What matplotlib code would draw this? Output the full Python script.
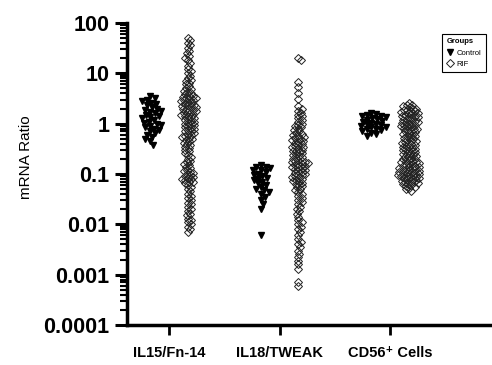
import numpy as np
import matplotlib
matplotlib.use('Agg')
import matplotlib.pyplot as plt

plt.rcParams['font.family'] = ['Liberation Sans', 'DejaVu Sans']

categories = ['IL15/Fn-14', 'IL18/TWEAK', 'CD56\u207a Cells']

# Control (filled triangles)
il15_control = [3.5, 3.2, 3.0, 2.8, 2.6, 2.5, 2.3, 2.1, 2.0, 1.9, 1.8, 1.7, 1.6, 1.5,
                1.4, 1.35, 1.3, 1.2, 1.1, 1.05, 1.0, 0.95, 0.9, 0.85, 0.8, 0.75, 0.7,
                0.65, 0.6, 0.55, 0.5, 0.45, 0.37]
il18_control = [0.15, 0.14, 0.14, 0.13, 0.12, 0.12, 0.11, 0.1, 0.095, 0.09, 0.085, 0.08,
                0.075, 0.07, 0.065, 0.06, 0.055, 0.05, 0.047, 0.043, 0.04, 0.035, 0.03,
                0.025, 0.02, 0.006]
cd56_control = [1.6, 1.55, 1.5, 1.45, 1.4, 1.35, 1.3, 1.25, 1.2, 1.15, 1.1, 1.05,
                1.0, 0.97, 0.93, 0.9, 0.87, 0.84, 0.8, 0.77, 0.74, 0.7, 0.66, 0.62, 0.58]

# RIF (open diamonds)
il15_rif = [50, 45, 40, 36, 32, 28, 25, 22, 20, 18, 16, 14, 12, 11, 10, 9, 8, 7.5, 7, 6.5,
            6, 5.5, 5, 4.8, 4.5,
            4.2, 4.0, 3.8, 3.6, 3.5, 3.4, 3.3, 3.2, 3.1, 3.0, 2.9, 2.8, 2.7, 2.6, 2.5, 2.4,
            2.3, 2.25, 2.2, 2.1, 2.0, 1.95, 1.9, 1.85, 1.8, 1.7, 1.65, 1.6, 1.55, 1.5, 1.45,
            1.4, 1.35, 1.3, 1.25, 1.2, 1.15, 1.1, 1.05, 1.0, 0.97, 0.93, 0.9, 0.86, 0.82,
            0.8, 0.76, 0.72, 0.7, 0.66, 0.63, 0.6, 0.57, 0.55, 0.52, 0.5, 0.47, 0.45, 0.42,
            0.4, 0.38, 0.35, 0.33, 0.3,
            0.28, 0.26, 0.24, 0.22, 0.2, 0.18, 0.17, 0.16, 0.15, 0.14, 0.13, 0.12, 0.115,
            0.11, 0.105, 0.1, 0.095, 0.09, 0.088, 0.085, 0.08, 0.078, 0.075, 0.07, 0.068,
            0.065, 0.06, 0.055, 0.05, 0.045, 0.04, 0.037, 0.033, 0.03, 0.027, 0.025, 0.022,
            0.02, 0.018, 0.016, 0.015, 0.013, 0.012, 0.011, 0.01, 0.009, 0.008, 0.007]
il18_rif = [20, 18, 6.7, 5.3, 4.0, 3.1, 2.2, 2.0, 1.8, 1.6, 1.5, 1.4, 1.3, 1.2, 1.1, 1.0,
            0.95, 0.9, 0.85, 0.8, 0.75, 0.7, 0.65, 0.62, 0.6, 0.57, 0.55, 0.52, 0.5, 0.48,
            0.46, 0.44, 0.42, 0.4, 0.38, 0.36, 0.35, 0.34, 0.32, 0.3, 0.29, 0.28, 0.27, 0.26,
            0.25, 0.24, 0.23, 0.22, 0.21, 0.2, 0.19, 0.185, 0.18, 0.175, 0.17, 0.165, 0.16,
            0.155, 0.15, 0.145, 0.14, 0.135, 0.13, 0.125, 0.12, 0.115, 0.11, 0.105, 0.1,
            0.097, 0.094, 0.09, 0.087, 0.084, 0.08, 0.077, 0.074, 0.07, 0.067, 0.064, 0.06,
            0.057, 0.054, 0.05, 0.047, 0.044, 0.04, 0.037, 0.034, 0.03, 0.028, 0.025, 0.022,
            0.02, 0.018, 0.016, 0.014, 0.012, 0.011, 0.01, 0.009, 0.008, 0.007, 0.006,
            0.005, 0.0045, 0.004, 0.0035, 0.003, 0.0026, 0.0022, 0.0019, 0.0016, 0.0013,
            0.0007, 0.0006]
cd56_rif = [2.6, 2.4, 2.3, 2.2, 2.1, 2.0, 2.0, 1.9, 1.85, 1.8, 1.75, 1.7, 1.65, 1.6, 1.55,
            1.5, 1.45, 1.4, 1.38, 1.35, 1.3, 1.25, 1.2, 1.18, 1.15, 1.1, 1.08, 1.05, 1.0,
            0.98, 0.95, 0.92, 0.9, 0.88, 0.85, 0.82, 0.8, 0.78, 0.75, 0.72, 0.7, 0.68, 0.65,
            0.62, 0.6, 0.58, 0.56, 0.54, 0.52, 0.5, 0.48, 0.46, 0.45, 0.43, 0.42, 0.4, 0.39,
            0.38, 0.36, 0.35, 0.34, 0.33, 0.32, 0.31, 0.3, 0.29, 0.28, 0.27, 0.26, 0.25,
            0.245, 0.24, 0.23, 0.22, 0.215, 0.21, 0.2, 0.195, 0.19, 0.185, 0.18, 0.175, 0.17,
            0.165, 0.16, 0.155, 0.15, 0.147, 0.144, 0.14, 0.137, 0.134, 0.13, 0.127, 0.124,
            0.12, 0.118, 0.115, 0.112, 0.11, 0.107, 0.105, 0.102, 0.1, 0.098, 0.096, 0.094,
            0.092, 0.09, 0.088, 0.086, 0.084, 0.082, 0.08, 0.078, 0.076, 0.074, 0.072, 0.07,
            0.068, 0.066, 0.064, 0.062, 0.06, 0.058, 0.055, 0.052, 0.05, 0.046]

controls = [il15_control, il18_control, cd56_control]
rifs = [il15_rif, il18_rif, cd56_rif]

fig = plt.figure(figsize=(4.92, 3.65), dpi=100)
ax = fig.add_axes([0.258, 0.1096, 0.742, 0.8274])
ax.set_yscale('log')
ax.set_ylim(1e-4, 100)
ax.set_xlim(0.62, 3.92)


def swarm(vals, center, d=3.0, step=0.8):
    # simple beeswarm in pixel space, returns x in data units
    vals = np.asarray(vals, dtype=float)
    pts = ax.transData.transform(np.column_stack([np.full(len(vals), center), vals]))
    y = pts[:, 1]
    ppu = ax.transData.transform((1, 1))[0] - ax.transData.transform((0, 1))[0]
    order = np.argsort(-y)
    placed = []
    xs = np.zeros(len(vals))
    for i in order:
        for k in range(400):
            off = ((k + 1) // 2) * step * (1 if k % 2 else -1)
            ok = True
            for (px, py) in placed:
                if (px - off) ** 2 + (py - y[i]) ** 2 < d * d:
                    ok = False
                    break
            if ok:
                break
        placed.append((off, y[i]))
        xs[i] = center + off / ppu
    return xs


offset = 0.17
for i, (c, r) in enumerate(zip(controls, rifs)):
    pos = i + 1
    xc = swarm(c, pos - offset, d=4.6)
    ax.plot(xc, c, linestyle='none', marker='v', ms=5, color='black',
            label='Control' if i == 0 else None)
    xr = swarm(r, pos + offset, d=3.2)
    ax.plot(xr, r, linestyle='none', marker='D', ms=4.3, mfc='none', mec='#222222',
            mew=0.7, label='RIF' if i == 0 else None)

for s in ['top', 'right']:
    ax.spines[s].set_visible(False)
for s in ['left', 'bottom']:
    ax.spines[s].set_linewidth(2.5)

ax.set_yticks([1e-4, 1e-3, 1e-2, 1e-1, 1, 10, 100])
ax.set_yticklabels(['0.0001', '0.001', '0.01', '0.1', '1', '10', '100'],
                   fontsize=15.5, fontweight='bold')
ax.tick_params(axis='y', which='major', length=8.5, width=2.2, pad=4)
ax.tick_params(axis='y', which='minor', length=5, width=1.5)
ax.set_xticks([1, 2, 3])
ax.set_xticklabels(categories, fontsize=10.5, fontweight='bold')
ax.tick_params(axis='x', which='major', length=7, width=2, pad=8)
ax.tick_params(axis='x', which='minor', length=0)

fig.text(26 / 492, 1 - 157 / 365, 'mRNA Ratio', rotation=90, ha='center', va='center',
         fontsize=11)

leg = ax.legend(loc='upper right', bbox_to_anchor=(490 / 492, 1 - 30 / 365),
                bbox_transform=fig.transFigure, title='Groups', fontsize=5.5,
                title_fontproperties={'weight': 'bold', 'size': 5.5}, alignment='left',
                fancybox=False, edgecolor='black', framealpha=1, handlelength=0.8,
                handletextpad=0.5, borderpad=0.6, labelspacing=0.5)
leg.get_frame().set_linewidth(0.8)

fig.savefig('out.png', dpi=100)
